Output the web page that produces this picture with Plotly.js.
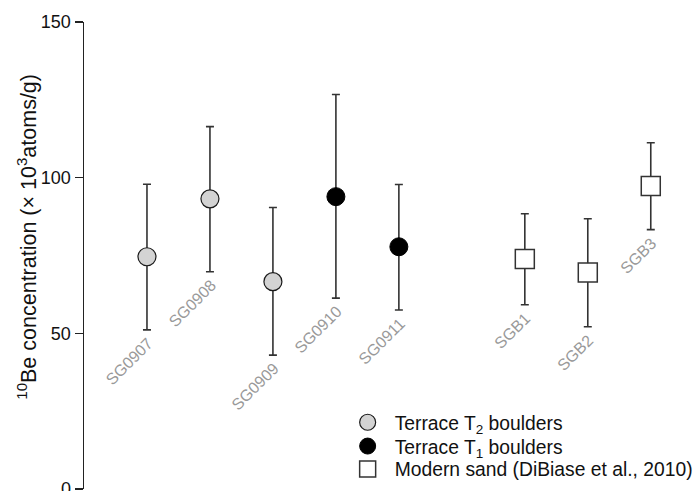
<!DOCTYPE html>
<html>
<head>
<meta charset="utf-8">
<script src="https://cdn.plot.ly/plotly-3.0.1.min.js"></script>
<style>html,body{margin:0;padding:0;background:#fff;}#chart{width:698px;height:491px;}</style>
</head>
<body>
<div id="chart"></div>
<script>
// Sample names and x positions (category slots)
const t2Names = ["SG0907", "SG0908", "SG0909"];
const t2Pos = [1, 2, 3];
const t2Value = [74.6, 93.2, 66.6];
const t2Upper = [97.9, 116.4, 90.4];
const t2Lower = [51.1, 69.8, 43.0];

const t1Names = ["SG0910", "SG0911"];
const t1Pos = [4, 5];
const t1Value = [93.9, 77.8];
const t1Upper = [126.7, 97.8];
const t1Lower = [61.3, 57.5];

const sandNames = ["SGB1", "SGB2", "SGB3"];
const sandPos = [7, 8, 9];
const sandValue = [73.9, 69.5, 97.3];
const sandUpper = [88.4, 86.8, 111.2];
const sandLower = [59.2, 52.1, 83.3];

const yTicks = [0, 50, 100, 150];
const yTitle = '<sup>10</sup>Be concentration (× 10<sup>3</sup>atoms/g)';

function errs(v, up, lo) {
  return {
    type: 'data', symmetric: false,
    array: v.map((x, i) => up[i] - x),
    arrayminus: v.map((x, i) => x - lo[i]),
    color: '#333', thickness: 1.6, width: 4
  };
}

const traces = [
  {
    x: t2Pos, y: t2Value, type: 'scatter', mode: 'markers', legend: 'legend',
    name: 'Terrace T<sub>2</sub> boulders',
    marker: {symbol: 'circle', size: 18, color: '#d3d3d3', line: {color: '#1a1a1a', width: 1.2}},
    error_y: errs(t2Value, t2Upper, t2Lower)
  },
  {
    x: t1Pos, y: t1Value, type: 'scatter', mode: 'markers', legend: 'legend2',
    name: 'Terrace T<sub>1</sub> boulders',
    marker: {symbol: 'circle', size: 18, color: '#000', line: {color: '#000', width: 1}},
    error_y: errs(t1Value, t1Upper, t1Lower)
  },
  {
    x: sandPos, y: sandValue, type: 'scatter', mode: 'markers', legend: 'legend3',
    name: 'Modern sand (DiBiase et al., 2010)',
    marker: {symbol: 'square', size: 19, color: '#fff', line: {color: '#333', width: 1.5}},
    error_y: errs(sandValue, sandUpper, sandLower)
  }
];

const annotations = [];
[[t2Names, t2Pos, t2Lower], [t1Names, t1Pos, t1Lower], [sandNames, sandPos, sandLower]].forEach(g => {
  g[0].forEach((n, i) => {
    annotations.push({
      x: g[1][i], y: g[2][i], xref: 'x', yref: 'y', text: n, showarrow: false,
      textangle: -45, xanchor: 'right', yanchor: 'top', xshift: 12, yshift: -2,
      font: {family: 'Liberation Sans, Arial, sans-serif', size: 16, color: '#999'}
    });
  });
});

annotations.push({
  xref: 'paper', yref: 'paper', x: -0.093, y: 0.54, xanchor: 'center', yanchor: 'middle',
  text: yTitle, showarrow: false, textangle: -90,
  font: {family: 'Liberation Sans, Arial, sans-serif', size: 21.5, color: '#111'}
});

function legendAt(y) {
  return {
    x: 0.418, xanchor: 'left', y: y, yanchor: 'middle',
    bgcolor: 'rgba(0,0,0,0)', font: {size: 19.3, color: '#111'},
    itemclick: false, itemwidth: 44
  };
}

const layout = {
  width: 698, height: 491,
  margin: {l: 84, r: 0, t: 22, b: 2, autoexpand: false},
  paper_bgcolor: '#fff', plot_bgcolor: '#fff',
  font: {family: 'Liberation Sans, Arial, sans-serif', color: '#000'},
  showlegend: true,
  legend: legendAt(0.142),
  legend2: legendAt(0.091),
  legend3: legendAt(0.042),
  xaxis: {
    range: [0, 9.75], showline: false, showgrid: false, zeroline: false,
    showticklabels: false, ticks: '', automargin: false
  },
  yaxis: {
    range: [0, 150], tickvals: yTicks, ticktext: yTicks.map(String),
    showline: true, linecolor: '#222', linewidth: 1.5,
    ticks: 'outside', ticklen: 8, tickwidth: 1.5, tickcolor: '#222',
    showgrid: false, zeroline: false, ticklabeloverflow: 'allow', automargin: false,
    tickfont: {size: 18, color: '#111'}
  },
  annotations: annotations
};

Plotly.newPlot('chart', traces, layout, {displayModeBar: false, staticPlot: true});
</script>
</body>
</html>
